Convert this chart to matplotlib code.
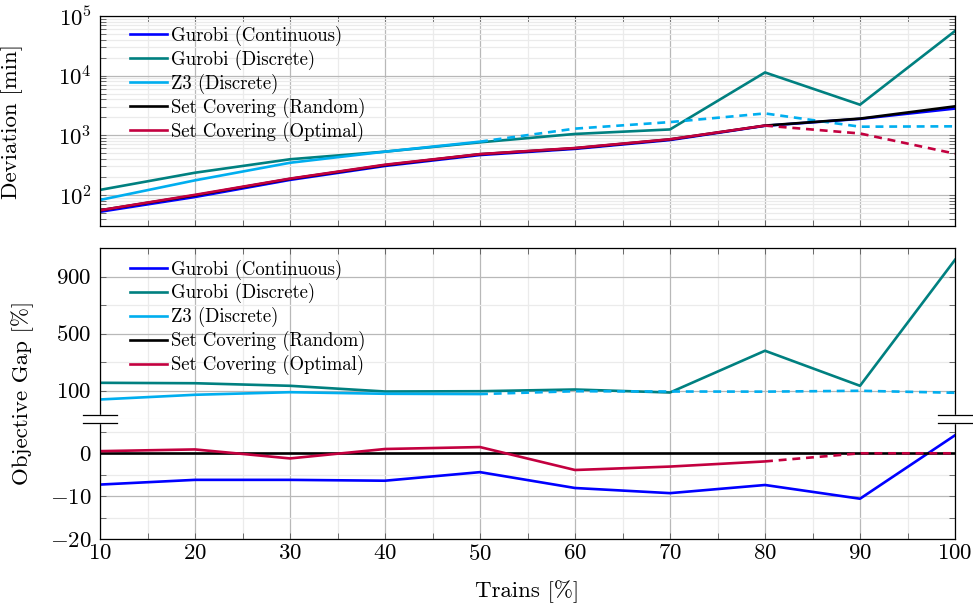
import matplotlib
matplotlib.use('Agg')
import matplotlib.pyplot as plt
from matplotlib.lines import Line2D
from matplotlib.patches import Rectangle
from matplotlib.ticker import MultipleLocator, LogLocator, NullFormatter

plt.rcParams['font.family'] = 'serif'
plt.rcParams['font.serif'] = ['cmr10']
plt.rcParams['mathtext.fontset'] = 'cm'
plt.rcParams['axes.formatter.use_mathtext'] = True

trains = [10, 20, 30, 40, 50, 60, 70, 80, 90, 100]

# deviation [min]
dev_gurobi_cont = [52, 92, 178, 305, 465, 590, 830, 1440, 1880, 2800]
dev_gurobi_disc = [121, 235, 395, 530, 760, 1050, 1250, 11300, 3250, 56000]
dev_z3 = [82, 175, 345, 530, 780, 1290, 1660, 2320, 1390, 1410]
dev_sc_random = [55, 98, 185, 315, 480, 605, 850, 1450, 1900, 3050]
dev_sc_opt = [55, 100, 187, 320, 482, 610, 855, 1450, 1070, 490]

# objective gap [%]
gap_gurobi_cont = [-7.3, -6.2, -6.2, -6.4, -4.4, -8.1, -9.3, -7.4, -10.6, 4.2]
gap_gurobi_disc = [154, 151, 133, 93, 95, 107, 86, 379, 133, 1017]
gap_z3 = [37, 70, 88, 77, 75, 95, 93, 92, 98, 84]
gap_sc_random = [0, 0, 0, 0, 0, 0, 0, 0, 0, 0]
gap_sc_opt = [0.5, 0.9, -1.2, 1.0, 1.45, -3.9, -3.1, -1.9, 0, 0]

labels = ['Gurobi (Continuous)', 'Gurobi (Discrete)', 'Z3 (Discrete)',
          'Set Covering (Random)', 'Set Covering (Optimal)']
c_blue = '#0000ff'
c_teal = '#008080'
c_cyan = '#00aeef'
c_black = '#000000'
c_red = '#c3003f'
lw = 1.9
fs = 16.5

W, H = 973, 605
fig = plt.figure(figsize=(W / 100, H / 100), dpi=100)
L, R = 100 / W, 955 / W
ax1 = fig.add_axes([L, 1 - 226 / H, R - L, 210 / H])
ax2 = fig.add_axes([L, 1 - 419 / H, R - L, (419 - 248) / H])
ax3 = fig.add_axes([L, 1 - 539 / H, R - L, (539 - 419) / H])


def style(ax):
    ax.set_xlim(10, 100)
    ax.xaxis.set_major_locator(MultipleLocator(10))
    ax.xaxis.set_minor_locator(MultipleLocator(5))
    ax.tick_params(which='both', direction='in', top=True, right=True,
                   labelsize=fs, length=4, width=0.6, color='#555555')
    ax.tick_params(axis='y', pad=6)
    ax.grid(True, which='major', color='#b8b8b8', lw=0.9)
    ax.grid(True, which='minor', color='#ebebeb', lw=0.9)
    ax.set_axisbelow(True)
    for s in ax.spines.values():
        s.set_linewidth(0.9)


def split(ax, x, y, color, cut):
    i = trains.index(cut)
    ax.plot(x[:i + 1], y[:i + 1], color=color, lw=lw, solid_capstyle='butt')
    ax.plot(x[i:], y[i:], color=color, lw=lw, ls=(0, (3.0, 2.2)))


# top panel
style(ax1)
ax1.set_yscale('log')
ax1.set_ylim(30, 1e5)
ax1.yaxis.set_major_locator(LogLocator(base=10, numticks=10))
ax1.yaxis.set_minor_locator(LogLocator(base=10, subs=range(2, 10), numticks=20))
ax1.yaxis.set_minor_formatter(NullFormatter())
ax1.set_xticklabels([])
ax1.plot(trains, dev_gurobi_cont, color=c_blue, lw=lw)
ax1.plot(trains, dev_gurobi_disc, color=c_teal, lw=lw)
split(ax1, trains, dev_z3, c_cyan, 50)
ax1.plot(trains, dev_sc_random, color=c_black, lw=lw)
split(ax1, trains, dev_sc_opt, c_red, 80)
ax1.set_ylabel('Deviation [min]', fontsize=fs)
ax1.yaxis.set_label_coords(-0.09, 0.5)

# bottom panel, upper segment
style(ax2)
ax2.set_ylim(-100, 1100)
ax2.yaxis.set_major_locator(MultipleLocator(400, offset=100))
ax2.yaxis.set_minor_locator(MultipleLocator(200, offset=100))
ax2.set_xticklabels([])
ax2.plot(trains, gap_gurobi_disc, color=c_teal, lw=lw)
split(ax2, trains, gap_z3, c_cyan, 50)
ax2.spines['bottom'].set_visible(False)
ax2.tick_params(which='both', bottom=False)

# bottom panel, lower segment
style(ax3)
ax3.set_ylim(-20, 8)
ax3.yaxis.set_major_locator(MultipleLocator(10))
ax3.yaxis.set_minor_locator(MultipleLocator(5))
ax3.plot(trains, gap_gurobi_cont, color=c_blue, lw=lw)
ax3.plot(trains, gap_sc_random, color=c_black, lw=lw)
split(ax3, trains, gap_sc_opt, c_red, 80)
ax3.spines['top'].set_visible(False)
ax3.tick_params(which='both', top=False)
ax3.set_xlabel('Trains [%]', fontsize=fs)
ax3.xaxis.set_label_coords(0.5, -0.34)

fig.text(23 / W, 1 - 393 / H, 'Objective Gap [%]', rotation=90,
         ha='center', va='center', fontsize=fs)

# legends
handles = [Line2D([], [], color=c, lw=lw) for c in
           [c_blue, c_teal, c_cyan, c_black, c_red]]
for ax, top in ((ax1, 1.015), (ax2, 1.01)):
    ax.legend(handles, labels, loc='upper left', frameon=False, fontsize=13.5,
              handlelength=1.95, handletextpad=0.25, labelspacing=0.2,
              borderaxespad=0.3, bbox_to_anchor=(0.02, top))

# axis break marks
for xc in (100, 955):
    fig.patches.append(Rectangle(((xc - 3) / W, 1 - 423 / H), 6 / W, 8 / H,
                                 transform=fig.transFigure, color='white',
                                 zorder=5))
    for yy in (415, 423):
        fig.lines.append(Line2D([(xc - 17) / W, (xc + 17) / W],
                                [1 - yy / H, 1 - yy / H],
                                transform=fig.transFigure, color='black',
                                lw=0.9, zorder=6))

fig.savefig('out.png', dpi=100)
